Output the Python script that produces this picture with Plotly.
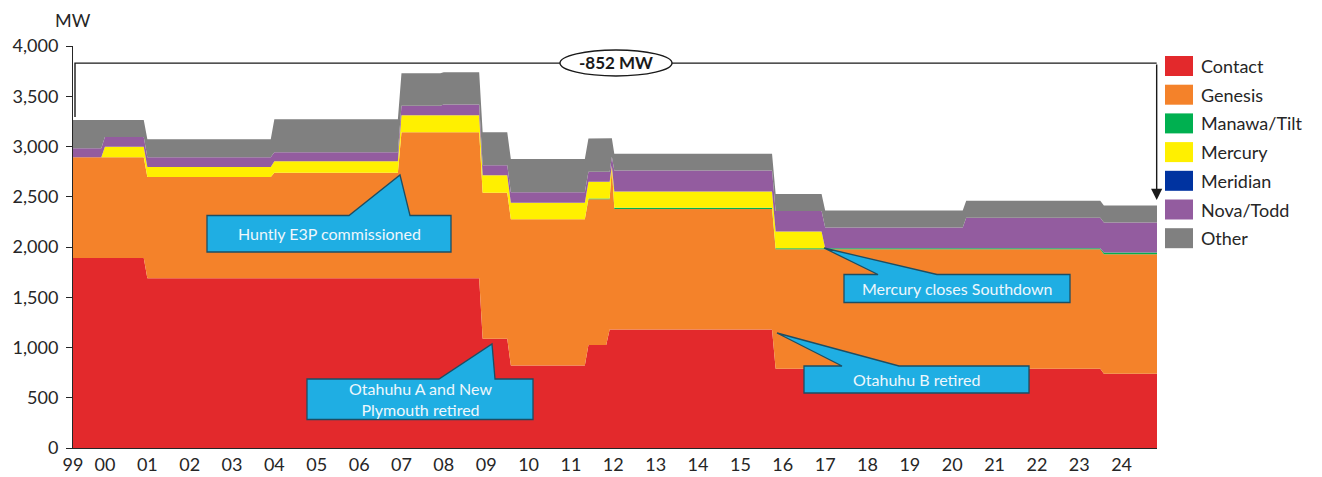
import plotly.graph_objects as go

# Monthly breakpoints of installed thermal capacity (MW) by owner
dates = ["1999-04-01", "1999-12-01", "2000-01-01", "2000-12-01", "2001-01-01",
         "2003-12-01", "2004-01-01", "2006-12-01", "2007-01-01", "2007-12-01",
         "2008-01-01", "2008-11-01", "2008-12-01", "2009-07-01", "2009-08-01",
         "2011-05-01", "2011-06-01", "2011-11-01", "2011-12-01", "2011-12-20",
         "2012-01-10", "2015-10-01", "2015-11-01", "2016-12-01", "2017-01-01",
         "2020-04-01", "2020-05-01", "2023-07-01", "2023-08-01", "2024-11-01"]

contact = [1890, 1890, 1890, 1890, 1690, 1690, 1690, 1690, 1690, 1690,
           1690, 1690, 1086, 1086, 821, 821, 1025, 1025, 1180, 1180,
           1180, 1180, 788, 788, 788, 788, 788, 788, 738, 738]
genesis = [1003, 1003, 1003, 1003, 1007, 1007, 1050, 1050, 1451, 1451,
           1451, 1451, 1455, 1455, 1455, 1455, 1450, 1450, 1295, 1609,
           1199, 1199, 1190, 1190, 1190, 1190, 1190, 1190, 1190, 1190]
manawa_tilt = [0, 0, 0, 0, 0, 0, 0, 0, 0, 0,
               0, 0, 0, 0, 0, 0, 8, 8, 8, 0,
               12, 12, 10, 10, 10, 10, 10, 10, 18, 18]
mercury = [0, 0, 105, 105, 99, 99, 113, 113, 169, 169,
           169, 169, 173, 173, 165, 165, 167, 167, 167, 20,
           160, 160, 165, 165, 0, 0, 0, 0, 0, 0]
meridian = [0] * 30
nova_todd = [90, 90, 96, 96, 97, 97, 89, 89, 96, 96,
             109, 109, 99, 99, 104, 104, 99, 99, 99, 90,
             209, 209, 206, 206, 205, 205, 304, 304, 297, 297]
other = [281, 281, 170, 170, 179, 179, 328, 328, 322, 322,
         319, 319, 328, 328, 331, 331, 330, 330, 330, 183,
         168, 168, 169, 169, 169, 169, 169, 169, 169, 169]

series_names = ["Contact", "Genesis", "Manawa/Tilt", "Mercury", "Meridian", "Nova/Todd", "Other"]
series_values = [contact, genesis, manawa_tilt, mercury, meridian, nova_todd, other]
series_colors = ["#E3292C", "#F4822A", "#00B050", "#FFF000", "#0033A0", "#935C9F", "#808080"]

# Year tick labels: first label sits at the start of the series
tick_dates = ["1999-04-01"] + [f"{y}-01-01" for y in range(2000, 2025)]
tick_text = ["99"] + [f"{y % 100:02d}" for y in range(2000, 2025)]

FONT = "Lato, 'Open Sans', sans-serif"
TEXT_COLOR = "#262626"

W, H = 1322, 477
L, R, T, B = 73, 165, 46, 29
PW, PH = W - L - R, H - T - B


def px(x):
    return (x - L) / PW


def py(y):
    return (H - B - y) / PH


def label(x, y, text, size, color=TEXT_COLOR, xanchor="center"):
    return dict(x=px(x), y=py(y), xref="paper", yref="paper", showarrow=False,
                xanchor=xanchor, yanchor="middle", align="center", text=text,
                font=dict(family=FONT, size=size, color=color))


fig = go.Figure()
for name, vals, col in zip(series_names, series_values, series_colors):
    fig.add_trace(go.Scatter(
        x=dates, y=vals, name=name, mode="lines", stackgroup="one",
        line=dict(width=0, color=col), fillcolor=col, showlegend=False,
        hovertemplate="%{x|%b %Y}: %{y} MW<extra>" + name + "</extra>",
    ))

start_total = sum(v[0] for v in series_values)
end_total = sum(v[-1] for v in series_values)
change = end_total - start_total

shapes = []
annotations = []

# Bracket showing the change in total capacity
BRACKET_TOP = 3830
shapes.append(dict(type="path", xref="paper", yref="y", layer="above",
                   path=f"M {px(75)},{start_total + 30} L {px(75)},{BRACKET_TOP} L 0.9997,{BRACKET_TOP}",
                   line=dict(color="#1a1a1a", width=1.4)))
annotations.append(dict(x=0.9997, y=end_total + 55, xref="x domain", yref="y",
                        ax=0.9997, ay=BRACKET_TOP, axref="x domain", ayref="y",
                        showarrow=True, arrowhead=2, arrowsize=1.6, arrowwidth=1.4,
                        arrowcolor="#1a1a1a", text=""))
shapes.append(dict(type="circle", xref="paper", yref="paper", layer="above",
                   x0=px(560), x1=px(672), y0=py(76), y1=py(50),
                   fillcolor="white", line=dict(color="#1a1a1a", width=1.4)))
annotations.append(label(616, 63, f"<b>{change:,} MW</b>", 17, "#1a1a1a"))

# Callout boxes
CALLOUT_FILL = "#1FAEE3"
CALLOUT_LINE = "#1D4E63"
callouts = [
    # (left, right, top, bottom, wedge start, tip x, tip y, wedge end, text)
    (207, 451, 215.5, 252, 349, 400, 175, 410, "Huntly E3P commissioned"),
    (307, 533, 379, 419.5, 439, 492, 344, 495, "Otahuhu A and New<br>Plymouth retired"),
    (844, 1070, 274.5, 302.5, 878, 824, 248, 937, "Mercury closes Southdown"),
    (804, 1029, 366, 393, 842, 777, 333, 899, "Otahuhu B retired"),
]
for l, r, t, b, w0, tx, ty, w1, text in callouts:
    pts = [(l, t), (w0, t), (tx, ty), (w1, t), (r, t), (r, b), (l, b)]
    path = "M " + " L ".join(f"{px(x):.5f},{py(y):.5f}" for x, y in pts) + " Z"
    shapes.append(dict(type="path", xref="paper", yref="paper", layer="above", path=path,
                       fillcolor=CALLOUT_FILL, line=dict(color=CALLOUT_LINE, width=1.3)))
    annotations.append(label((l + r) / 2, (t + b) / 2, text, 16, "#EEF7FC"))

# Legend
for i, (name, col) in enumerate(zip(series_names, series_colors)):
    cy = 66 + i * 28.7
    shapes.append(dict(type="rect", xref="paper", yref="paper",
                       x0=px(1165), x1=px(1193), y0=py(cy + 10), y1=py(cy - 10),
                       fillcolor=col, line=dict(width=0)))
    annotations.append(label(1199, cy, name, 18, xanchor="left"))

# Unit label
annotations.append(label(73, 20, "MW", 18))

fig.update_layout(
    width=W, height=H,
    margin=dict(l=L, r=R, t=T, b=B, pad=0),
    paper_bgcolor="white", plot_bgcolor="white",
    font=dict(family=FONT, size=18, color=TEXT_COLOR),
    shapes=shapes, annotations=annotations,
    xaxis=dict(type="date", range=[dates[0], dates[-1]], tickvals=tick_dates, ticktext=tick_text,
               showgrid=False, zeroline=False, showline=True, linecolor="#262626", linewidth=1,
               ticks="", tickfont=dict(size=18), automargin=False),
    yaxis=dict(range=[0, 4000], tickvals=list(range(0, 4001, 500)), tickformat=",",
               showgrid=False, zeroline=False, showline=True, linecolor="#262626", linewidth=1,
               ticks="outside", ticklen=6, tickcolor="#262626", tickfont=dict(size=18),
               ticklabelstandoff=4, automargin=False),
)

fig.write_html("out.html")
